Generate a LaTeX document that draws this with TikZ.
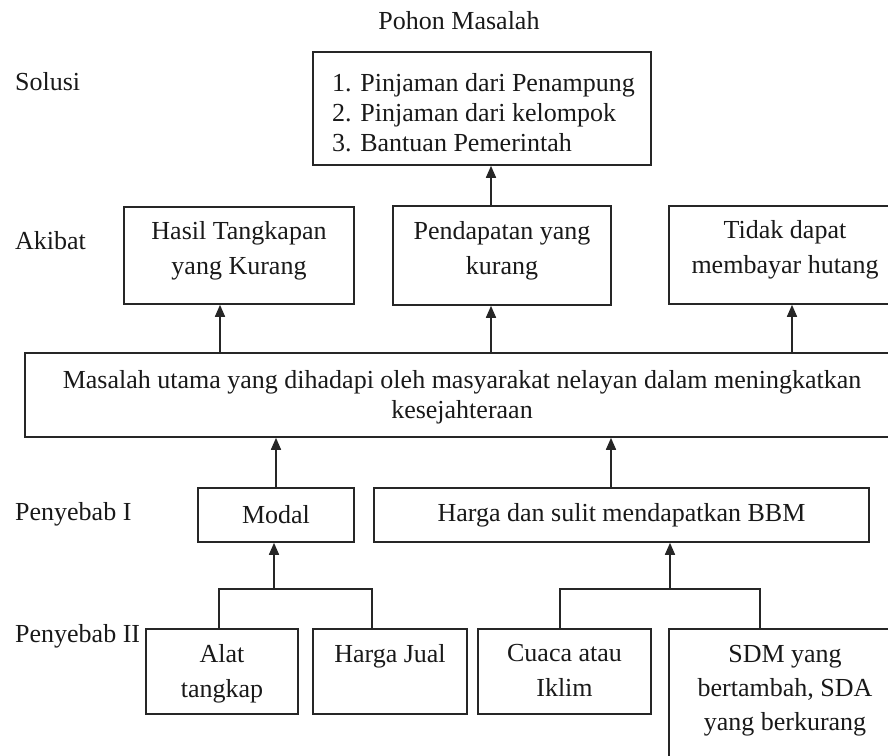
\documentclass[tikz,border=0pt]{standalone}
\usepackage{fontspec}
\setmainfont{Liberation Serif}
\usetikzlibrary{arrows.meta}
\begin{document}
\begin{tikzpicture}[x=1pt,y=-1pt,
  box/.style={draw=black!85, line width=1.6pt, inner sep=0pt},
  txt/.style={inner sep=0pt, align=center, text=black!90, font=\fontsize{26}{35}\selectfont},
  lbl/.style={inner sep=0pt, anchor=west, text=black!90, font=\fontsize{26}{30}\selectfont},
  arr/.style={draw=black!85, line width=1.6pt, -{Triangle[width=10pt,length=12pt]}},
  ln/.style={draw=black!85, line width=1.6pt}
]
\clip (0,0) rectangle (888,755);
\useasboundingbox (0,0) rectangle (888,755);

% title and row labels
\node[txt] (title) at (459,21) {Pohon Masalah};
\node[lbl] (lsolusi) at (15,82) {Solusi};
\node[lbl] (lakibat) at (15,241) {Akibat};
\node[lbl] (lpI) at (15,514) {Penyebab I};
\node[lbl] (lpII) at (15,636) {Penyebab II};

% solusi
\node[box, minimum width=338pt, minimum height=113pt] (solusi) at (482,108.5) {};
\node[txt, align=left, anchor=north west, font=\fontsize{26}{30}\selectfont] (solusit) at (332,73)
  {1. Pinjaman dari Penampung\\2. Pinjaman dari kelompok\\3. Bantuan Pemerintah};

% akibat
\node[box, minimum width=230pt, minimum height=97pt] (hasil) at (239,255.5) {};
\node[txt, anchor=north] (hasilt) at ([yshift=-15pt]hasil.north) {Hasil Tangkapan\\yang Kurang};
\node[box, minimum width=218pt, minimum height=99pt] (pend) at (502,255.5) {};
\node[txt, anchor=north] (pendt) at ([yshift=-16pt]pend.north) {Pendapatan yang\\kurang};
\node[box, minimum width=232pt, minimum height=98pt] (tidak) at (785,255) {};
\node[txt, anchor=north] (tidakt) at ([yshift=-15pt]tidak.north) {Tidak dapat\\membayar hutang};

% masalah utama
\node[box, minimum width=874pt, minimum height=84pt] (masalah) at (462,395) {};
\node[txt, anchor=north, font=\fontsize{26}{30}\selectfont] (masalaht) at ([yshift=-18pt]masalah.north)
  {Masalah utama yang dihadapi oleh masyarakat nelayan dalam meningkatkan\\kesejahteraan};

% penyebab I
\node[box, minimum width=156pt, minimum height=54pt] (modal) at (276,515) {};
\node[txt] (modalt) at (modal.center) {Modal};
\node[box, minimum width=495pt, minimum height=54pt] (harga) at (621.5,515) {};
\node[txt] (hargat) at (harga.center) {Harga dan sulit mendapatkan BBM};

% penyebab II
\node[box, minimum width=152pt, minimum height=85pt] (alat) at (222,671.5) {};
\node[txt, anchor=north] (alatt) at ([yshift=-16pt]alat.north) {Alat\\tangkap};
\node[box, minimum width=154pt, minimum height=85pt] (hjual) at (390,671.5) {};
\node[txt, anchor=north] (hjualt) at ([yshift=-16pt]hjual.north) {Harga Jual};
\node[box, minimum width=173pt, minimum height=85pt] (cuaca) at (564.5,671.5) {};
\node[txt, anchor=north] (cuacat) at ([yshift=-16pt]cuaca.north) {Cuaca atau\\Iklim};
\node[box, minimum width=232pt, minimum height=160pt] (sdm) at (785,709) {};
\node[txt, anchor=north, font=\fontsize{26}{34}\selectfont] (sdmt) at ([yshift=-17pt]sdm.north)
  {SDM yang\\bertambah, SDA\\yang berkurang};

% connector x positions
\coordinate (xa1) at (220,0);
\coordinate (xa2) at (491,0);
\coordinate (xa3) at (792,0);
\coordinate (xm) at (276,0);
\coordinate (xh) at (611,0);
\coordinate (j1) at (274,589);
\coordinate (j2) at (670,589);
\coordinate (bl1) at (219,589);
\coordinate (br1) at (372,589);
\coordinate (bl2) at (560,589);
\coordinate (br2) at (760,589);

% arrows
\draw[arr] (xa2 |- pend.north) -- (xa2 |- solusi.south);
\draw[arr] (xa1 |- masalah.north) -- (xa1 |- hasil.south);
\draw[arr] (xa2 |- masalah.north) -- (xa2 |- pend.south);
\draw[arr] (xa3 |- masalah.north) -- (xa3 |- tidak.south);
\draw[arr] (xm |- modal.north) -- (xm |- masalah.south);
\draw[arr] (xh |- harga.north) -- (xh |- masalah.south);

% branches
\draw[ln] (bl1 |- alat.north) -- (bl1) -- (br1) -- (br1 |- hjual.north);
\draw[arr] (j1) -- (j1 |- modal.south);
\draw[ln] (bl2 |- cuaca.north) -- (bl2) -- (br2) -- (br2 |- sdm.north);
\draw[arr] (j2) -- (j2 |- harga.south);
\end{tikzpicture}
\end{document}
